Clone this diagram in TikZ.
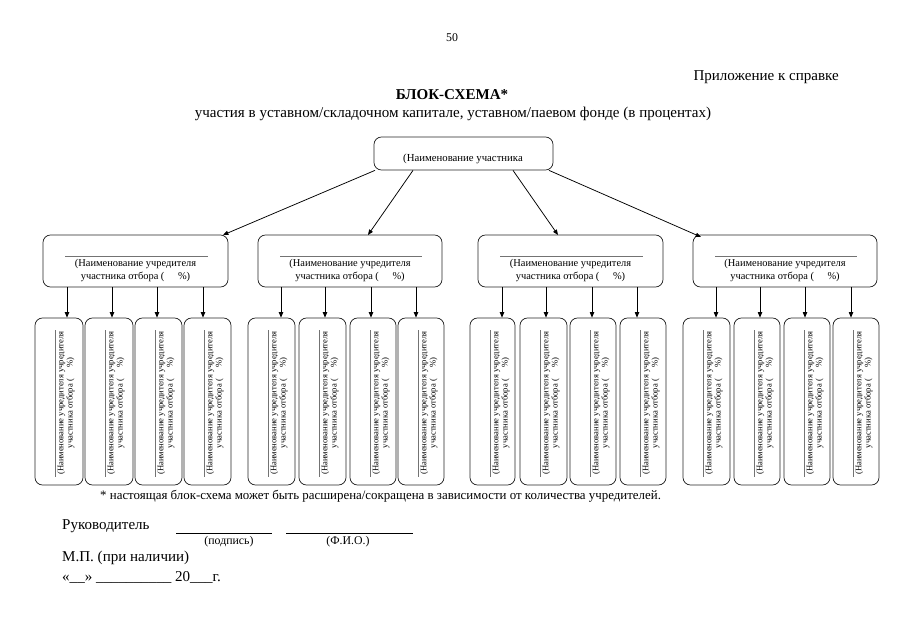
\documentclass[tikz,border=0pt]{standalone}
\usepackage{fontspec}
\setmainfont{Liberation Serif}
\usetikzlibrary{fit,arrows.meta}
\begin{document}
\begin{tikzpicture}[x=0.9304pt,y=-0.9304pt,
  box/.style={draw=black!85, rounded corners=7pt, line width=0.7pt, inner sep=0pt},
  arr/.style={-{Triangle[length=5pt,width=4pt]}, line width=0.7pt},
  rulec/.style={draw=black!55, line width=0.6pt},
  midtext/.style={font=\fontsize{9.7}{12}\selectfont, align=center, inner sep=0pt},
  leaftext/.style={font=\fontsize{8}{8.7}\selectfont, align=center, inner sep=0pt, rotate=90},
  plain/.style={inner sep=0pt, font=\fontsize{14}{16}\selectfont}]
\useasboundingbox (0,0) rectangle (905,640);

% header texts
\node[plain, font=\fontsize{11}{13}\selectfont] (pnum) at (452,38) {50};
\node[plain, anchor=east] (appx) at (839,77) {Приложение к справке};
\node[plain, font=\fontsize{14}{16}\selectfont\bfseries] (title) at (452,95) {БЛОК-СХЕМА*};
\node[plain] (subtitle) at (453,114) {участия в уставном/складочном капитале, уставном/паевом фонде (в процентах)};

% top box
\node[box, fit={(374,137) (553,170)}] (top) {};
\node[midtext, font=\fontsize{10}{12}\selectfont] (toptext) at (463,159) {(Наименование участника};

% level 2 boxes
\foreach \i/\a/\b in {1/43/228, 2/258/442, 3/478/663, 4/693/877}{
  \node[box, fit={(\a,235) (\b,287)}] (m\i) {};
  \draw[rulec] ({\a+22},256) -- ({\b-20},256);
  \node[midtext] (mt\i) at ({(\a+\b)/2},270.5) {(Наименование учредителя\\участника отбора (\hspace{1.3em}\%)};
}

% arrows from top box
\coordinate (s1) at (375,170); \coordinate (e1) at (223,235);
\coordinate (s2) at (413,170); \coordinate (e2) at (368,235);
\coordinate (s3) at (513,170); \coordinate (e3) at (558,235);
\coordinate (s4) at (549,170); \coordinate (e4) at (701,237);
\foreach \i in {1,2,3,4}{
  \draw[arr] (top.south -| s\i) -- (e\i);
}

% leaves
\foreach \g/\lst in {1/{35/83/67,85/133/112,135/182/157,184/231/203},
                     2/{248/295/281,299/346/325,350/396/371,398/444/416},
                     3/{470/515/502,520/567/546,570/616/592,620/666/637},
                     4/{683/730/716,734/780/760,784/830/805,833/879/851}}{
  \foreach \a/\b/\x [count=\i] in \lst {
    \node[box, fit={(\a,318) (\b,485)}] (l\g\i) {};
    \draw[rulec] ({\a+20},330) -- ({\a+20},477);
    \node[leaftext] (lt\g\i) at ({\a+31},403) {(Наименование учредителя учредителя\\участника отбора (\hspace{1.3em}\%)};
    \coordinate (a\g\i) at (\x,300);
    \draw[arr] (m\g.south -| a\g\i) -- (l\g\i.north -| a\g\i);
  }
}

% footnote and signatures
\node[plain, font=\fontsize{12}{14}\selectfont, anchor=west] (foot) at (100,496) {* настоящая блок-схема может быть расширена/сокращена в зависимости от количества учредителей.};
\node[plain, anchor=west] (boss) at (62,526) {Руководитель};
\coordinate (sg1) at (176,533); \coordinate (sg2) at (272,533);
\coordinate (fi1) at (286,533); \coordinate (fi2) at (413,533);
\draw[line width=0.6pt] (sg1) -- (sg2);
\draw[line width=0.6pt] (fi1) -- (fi2);
\node[plain, font=\fontsize{11}{13}\selectfont] (sig) at (229,542) {(подпись)};
\node[plain, font=\fontsize{11}{13}\selectfont] (fio) at (348,542) {(Ф.И.О.)};
\node[plain, anchor=west] (mp) at (62,558) {М.П. (при наличии)};
\node[plain, anchor=west] (date) at (62,577) {«\_\_» \_\_\_\_\_\_\_\_\_\_ 20\_\_\_г.};
\end{tikzpicture}
\end{document}
